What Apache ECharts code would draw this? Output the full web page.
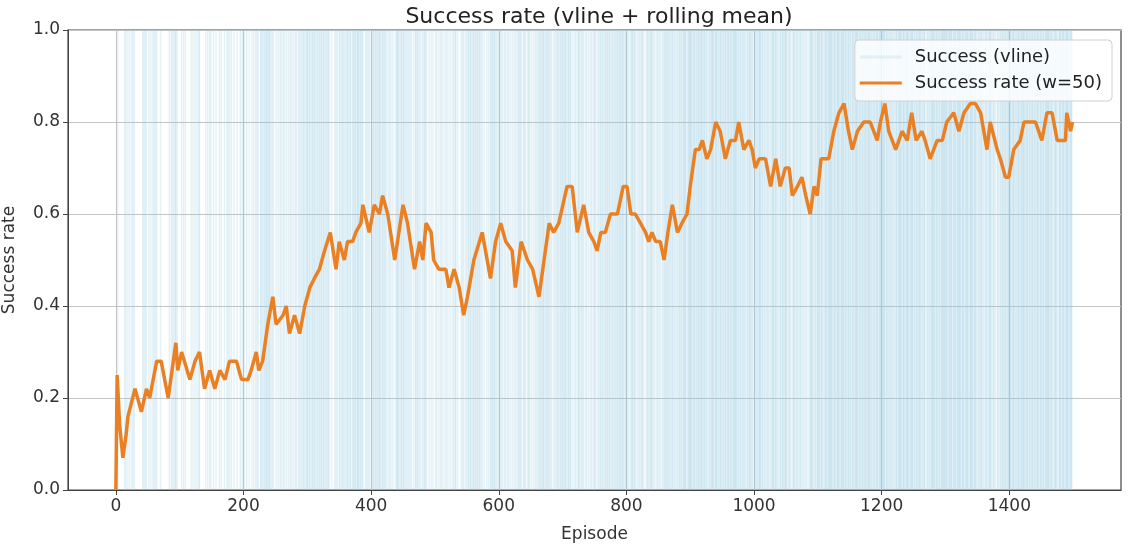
<!DOCTYPE html>
<html>
<head>
<meta charset="utf-8">
<script src="https://cdn.jsdelivr.net/npm/echarts@6/dist/echarts.min.js"></script>
<style>
  html, body { margin: 0; padding: 0; background: #fff; }
  #chart { width: 1129px; height: 548px; }
</style>
</head>
<body>
<div id="chart"></div>
<script>
// episode outcomes, one string per block of 50 episodes (1 = success)
var outcomeBlocks = [
  '0001000000 0000101001 0010010101 0000000000 0010101010',
  '0010010010 1010100000 1000000000 0000100101 0101101000',
  '0001001001 0000000010 0100100100 1100000000 0100100101',
  '0001000100 0010010000 1000101010 0100010000 1000010010',
  '0100010001 0001001001 0101000110 1011011101 1101010100',
  '0100100101 0010100100 1001010010 0101001010 1010110101',
  '1101101011 0110101101 1011011010 1101100010 0001010100',
  '1101011010 1011010110 0110111011 1101101100 0101010100',
  '1101101101 1011101011 0110100101 0100100010 1111010110',
  '1101010101 0101001001 1011010100 1010110100 0100100100',
  '0101001001 0100100101 0010010010 1011001000 0101010010',
  '1011011010 1101101101 1010100100 0100100110 1101101010',
  '1010101001 0100101001 0010010100 1101101001 1010010110',
  '0100100101 0101101101 1101011011 0101001010 1011010110',
  '1101110101 1011001001 0100111010 1101001010 0100101001',
  '1010010101 1011010110 1101101011 0101101101 1101110101',
  '1101001011 1011010010 1010110100 0101101011 1010100101',
  '0101001010 1101101101 1011010101 0101101101 1111010111',
  '1111011101 1011101111 0111011010 1101111101 1110110111',
  '0110111011 1101110111 1111011011 0110110101 1011101101',
  '0110110111 1101101101 0110101011 1101110101 0110111011',
  '1101011010 0111010110 1011010101 0101001011 1110101101',
  '1111011101 0111101111 1111011110 1111101111 1101110111',
  '0110111011 1111011101 1101111011 1110110111 0111101111',
  '1111110111 0110110110 1011101111 1101111011 1111011111',
  '0110111011 1101101110 0110110111 1111011101 1101111111',
  '1111011111 1011111011 1111101111 0111111011 1111011110',
  '1011011101 0101101011 1101011010 0110101101 1101110111',
  '1111011110 1101111011 1111101111 0111011101 1101111011',
  '1011101111 1111011101 0111101011 1101111011 1111011110'
];

// rolling success rate (window 50)
var rateEpisodes = [
  0, 2, 6, 11, 16, 19, 30, 40, 48, 53, 64, 71, 82, 94, 97, 103, 116, 124, 131, 139,
  147, 155, 163, 171, 178, 189, 197, 207, 212, 220, 224, 230, 238, 246, 251, 262, 267, 272, 280, 288,
  296, 304, 311, 319, 327, 336, 345, 350, 358, 363, 371, 376, 384, 387, 397, 405, 413, 418, 426, 437,
  450, 457, 468, 476, 481, 486, 494, 498, 506, 517, 522, 530, 538, 545, 551, 561, 574, 587, 595, 603,
  611, 621, 626, 635, 645, 653, 663, 671, 679, 686, 694, 707, 715, 723, 733, 741, 749, 754, 760, 767,
  775, 786, 795, 801, 807, 814, 822, 830, 835, 840, 846, 853, 859, 865, 872, 880, 887, 895, 900, 908,
  914, 919, 926, 932, 940, 947, 955, 963, 971, 976, 984, 992, 997, 1002, 1008, 1018, 1026, 1034, 1041, 1049,
  1055, 1060, 1068, 1075, 1081, 1088, 1094, 1099, 1105, 1117, 1125, 1133, 1141, 1148, 1154, 1162, 1172, 1182, 1193, 1198,
  1205, 1211, 1222, 1232, 1240, 1247, 1254, 1263, 1268, 1276, 1287, 1295, 1302, 1313, 1321, 1329, 1339, 1347, 1355, 1365,
  1370, 1381, 1386, 1394, 1399, 1407, 1417, 1423, 1441, 1451, 1459, 1467, 1475, 1488, 1490, 1496, 1499
];
var rateValues = [
  0.00, 0.25, 0.14, 0.07, 0.12, 0.16, 0.22, 0.17, 0.22, 0.20, 0.28, 0.28, 0.20, 0.32, 0.26, 0.30, 0.24, 0.28, 0.30, 0.22,
  0.26, 0.22, 0.26, 0.24, 0.28, 0.28, 0.24, 0.24, 0.26, 0.30, 0.26, 0.28, 0.36, 0.42, 0.36, 0.38, 0.40, 0.34, 0.38, 0.34,
  0.40, 0.44, 0.46, 0.48, 0.52, 0.56, 0.48, 0.54, 0.50, 0.54, 0.54, 0.56, 0.58, 0.62, 0.56, 0.62, 0.60, 0.64, 0.60, 0.50,
  0.62, 0.58, 0.48, 0.54, 0.50, 0.58, 0.56, 0.50, 0.48, 0.48, 0.44, 0.48, 0.44, 0.38, 0.42, 0.50, 0.56, 0.46, 0.54, 0.58,
  0.54, 0.52, 0.44, 0.54, 0.50, 0.48, 0.42, 0.50, 0.58, 0.56, 0.58, 0.66, 0.66, 0.56, 0.62, 0.56, 0.54, 0.52, 0.56, 0.56,
  0.60, 0.60, 0.66, 0.66, 0.60, 0.60, 0.58, 0.56, 0.54, 0.56, 0.54, 0.54, 0.50, 0.56, 0.62, 0.56, 0.58, 0.60, 0.66, 0.74,
  0.74, 0.76, 0.72, 0.74, 0.80, 0.78, 0.72, 0.76, 0.76, 0.80, 0.74, 0.76, 0.74, 0.70, 0.72, 0.72, 0.66, 0.72, 0.66, 0.70,
  0.70, 0.64, 0.66, 0.68, 0.64, 0.60, 0.66, 0.64, 0.72, 0.72, 0.78, 0.82, 0.84, 0.78, 0.74, 0.78, 0.80, 0.80, 0.76, 0.80,
  0.84, 0.78, 0.74, 0.78, 0.76, 0.82, 0.76, 0.78, 0.76, 0.72, 0.76, 0.76, 0.80, 0.82, 0.78, 0.82, 0.84, 0.84, 0.82, 0.74,
  0.80, 0.74, 0.72, 0.68, 0.68, 0.74, 0.76, 0.80, 0.80, 0.76, 0.82, 0.82, 0.76, 0.76, 0.82, 0.78, 0.80
];

var xTicks = [0, 200, 400, 600, 800, 1000, 1200, 1400];

var lineColor = '#ea8024';
var vlineColor = 'rgba(150,205,225,0.27)';
var font = 'DejaVu Sans';

var successEpisodes = [];
outcomeBlocks.forEach(function(block, b) {
  var s = block.replace(/ /g, '');
  for (var i = 0; i < s.length; i++) {
    if (s[i] === '1') successEpisodes.push([b * 50 + i, 1]);
  }
});

var rateData = rateEpisodes.map(function(e, i) { return [e, rateValues[i]]; });

var chart = echarts.init(document.getElementById('chart'));
var option = {
  animation: false,
  backgroundColor: '#fff',
  textStyle: { fontFamily: font },
  title: {
    text: 'Success rate (vline + rolling mean)',
    left: 594,
    top: 1,
    textAlign: 'center',
    textStyle: { fontSize: 22, fontWeight: 'normal', color: '#222', fontFamily: font }
  },
  legend: {
    orient: 'vertical',
    right: 17,
    top: 40,
    padding: [8, 10, 9, 5],
    itemWidth: 42,
    itemHeight: 3,
    itemGap: 8,
    backgroundColor: 'rgba(255,255,255,0.8)',
    borderColor: '#d0d0d0',
    borderWidth: 1,
    borderRadius: 4,
    textStyle: { fontSize: 18, color: '#222', fontFamily: font, padding: [0, 0, 0, 8] },
    data: [
      { name: 'Success (vline)', icon: 'rect', itemStyle: { color: 'rgba(150,205,225,0.22)' } },
      { name: 'Success rate (w=50)', icon: 'rect', itemStyle: { color: lineColor } }
    ]
  },
  grid: {
    left: 68, right: 8, top: 30, bottom: 58,
    outerBoundsMode: 'none',
    containLabel: false,
    show: true, borderColor: '#444', borderWidth: 1.2
  },
  xAxis: {
    type: 'value',
    min: -75,
    max: 1575,
    splitNumber: 8,
    name: 'Episode',
    nameLocation: 'middle',
    nameGap: 36,
    nameTextStyle: { fontSize: 17, color: '#333', fontFamily: font },
    axisLine: { show: true, onZero: false, lineStyle: { color: '#444' } },
    axisTick: { show: true, length: 5, customValues: xTicks, lineStyle: { color: '#444' } },
    axisLabel: {
      fontSize: 17, color: '#333', margin: 8, customValues: xTicks, fontFamily: font,
      formatter: function(v) { return String(v); }
    },
    splitLine: { show: true, lineStyle: { color: '#c4c4c4' } }
  },
  yAxis: {
    type: 'value',
    min: 0,
    max: 1,
    interval: 0.2,
    name: 'Success rate',
    nameLocation: 'middle',
    nameGap: 50,
    nameTextStyle: { fontSize: 17, color: '#333', fontFamily: font },
    axisLine: { show: true, onZero: false, lineStyle: { color: '#444' } },
    axisTick: { show: true, length: 5, lineStyle: { color: '#444' } },
    axisLabel: {
      fontSize: 17, color: '#333', margin: 8, fontFamily: font,
      formatter: function(v) { return v.toFixed(1); }
    },
    splitLine: { show: true, lineStyle: { color: '#c4c4c4' } }
  },
  series: [
    {
      name: 'Success (vline)',
      type: 'custom',
      silent: true,
      encode: { x: 0, y: 1 },
      data: successEpisodes,
      renderItem: function(params, api) {
        var top = api.coord([api.value(0), 1]);
        var bot = api.coord([api.value(0), 0]);
        return {
          type: 'rect',
          shape: { x: top[0] - 0.7, y: top[1], width: 1.4, height: bot[1] - top[1] },
          style: { fill: vlineColor }
        };
      }
    },
    {
      name: 'Success rate (w=50)',
      type: 'line',
      data: rateData,
      showSymbol: false,
      symbol: 'none',
      lineStyle: { color: lineColor, width: 3.5 },
      itemStyle: { color: lineColor },
      z: 5
    }
  ]
};
chart.setOption(option);
</script>
</body>
</html>
